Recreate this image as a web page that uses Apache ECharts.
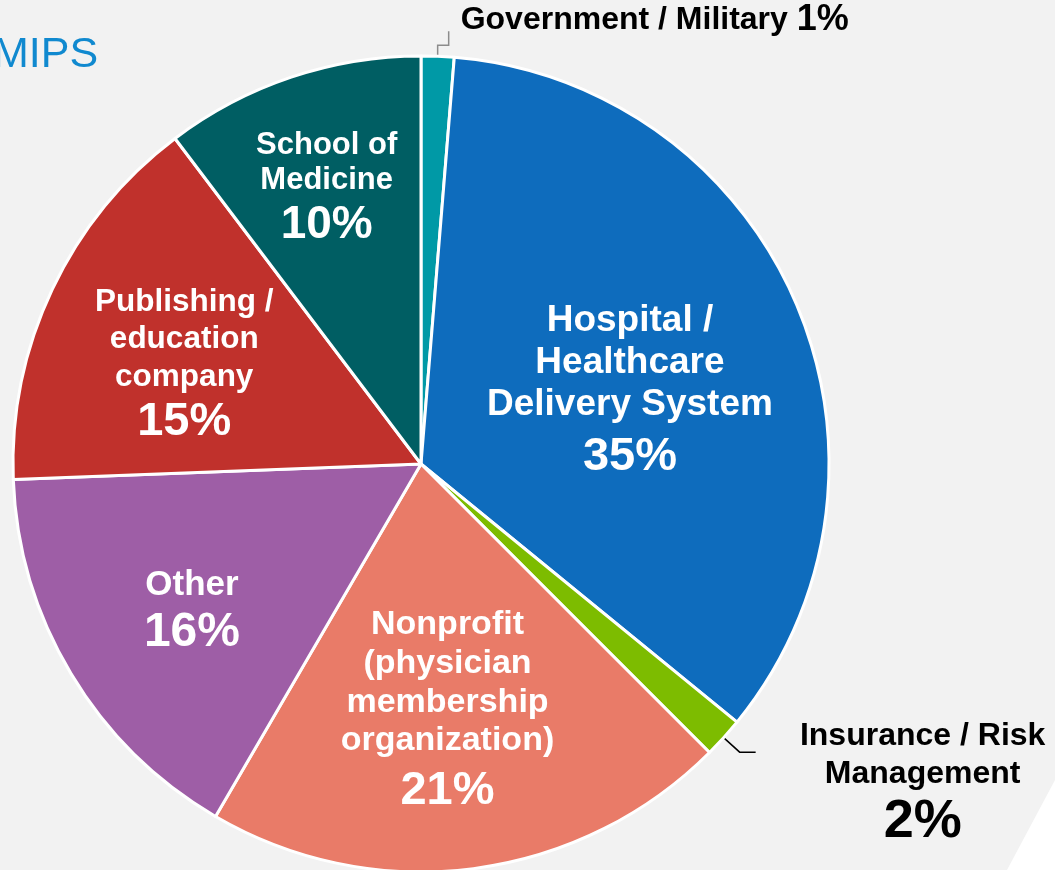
<!DOCTYPE html>
<html><head><meta charset="utf-8">
<script src="https://cdn.jsdelivr.net/npm/echarts@6/dist/echarts.min.js"></script>
<style>html,body{margin:0;padding:0;background:#f2f2f2;} #c{width:1055px;height:870px;}</style>
</head><body><div id="c"></div>
<script>
// ---- data ----
const categories = [
  'Government / Military',
  'Hospital /\nHealthcare\nDelivery System',
  'Insurance / Risk\nManagement',
  'Nonprofit\n(physician\nmembership\norganization)',
  'Other',
  'Publishing /\neducation\ncompany',
  'School of\nMedicine'
];
const shares = [1.3, 34.6, 1.6, 20.9, 16.0, 15.3, 10.3];
const colors = ['#0099a6', '#0e6cbd', '#7dbc00', '#e97b68', '#9e5ea6', '#c0312c', '#005e63'];
const titleText = 'MIPS';

// ---- label styling per slice: [nameSize, nameLineHeight, pctSize, pctLineHeight] ----
const labelFonts = [[32,38,36,38],[37,42,47,62],[32,38.5,54,56.5],[34,38.7,47,61],[35,38,48,57],[31.5,37.5,47,52.5],[31,35,46,55]];
// inside label placement: [radius fraction, angle offset (deg)]
const labelPlace = [null,[0.540,5.2],null,[0.615,1.4],[0.671,-2.6],[0.628,-2.9],[0.709,-0.6]];
const CENTER = [421, 464], RADIUS = 408;
const FONT = '"Liberation Sans", Arial, sans-serif';

const rich = {};
labelFonts.forEach((f, i) => {
  const col = labelPlace[i] ? '#ffffff' : '#000000';
  rich['n' + i] = {fontSize: f[0], lineHeight: f[1], fontWeight: 'bold', color: col, align: 'center', fontFamily: FONT};
  rich['p' + i] = {fontSize: f[2], lineHeight: f[3], fontWeight: 'bold', color: col, align: 'center', fontFamily: FONT};
});
rich.n0.align = 'left'; rich.p0.align = 'left';

const data = categories.map((name, i) => {
  const item = {name: name, value: shares[i], itemStyle: {color: colors[i]}};
  if (labelPlace[i]) {
    item.label = {position: 'inside'};
    item.labelLine = {show: false};
  }
  return item;
});
data[0].label = {position: 'outside', padding: [0, 0, 22, 0], distanceToLabelLine: 12, width: 440, overflow: 'none'};
data[0].labelLine = {show: true, length: 25, length2: 10, lineStyle: {color: '#8c8c8c', width: 1.5}};
data[2].label = {position: 'outside', padding: [63, 0, 0, 0], distanceToLabelLine: 42, width: 250, overflow: 'none'};
data[2].labelLine = {show: true, length: 21.6, length2: 16, lineStyle: {color: '#000000', width: 1.5}};

const chart = echarts.init(document.getElementById('c'), null, {renderer: 'canvas'});
chart.setOption({
  backgroundColor: '#f2f2f2',
  animation: false,
  title: {
    text: titleText, left: -7, top: 34, padding: 0,
    textStyle: {color: '#1089cf', fontSize: 43, fontWeight: 'normal', fontFamily: FONT}
  },
  graphic: [{
    type: 'polygon', silent: true, z: -1,
    shape: {points: [[1055, 780], [1055, 870], [1007, 870]]},
    style: {fill: '#ffffff'}
  }],
  series: [{
    type: 'pie',
    center: CENTER,
    radius: RADIUS,
    startAngle: 90,
    clockwise: true,
    avoidLabelOverlap: false,
    emphasis: {disabled: true},
    itemStyle: {borderColor: '#ffffff', borderWidth: 3},
    label: {
      show: true,
      fontFamily: FONT,
      rich: rich,
      formatter: function (p) {
        const i = p.dataIndex;
        const pct = Math.round(p.percent) + '%';
        if (i === 0) return '{n0|' + p.name + ' }{p0|' + pct + '}';
        return p.name.split('\n').map(s => '{n' + i + '|' + s + '}').join('\n') + '\n{p' + i + '|' + pct + '}';
      }
    },
    labelLayout: function (params) {
      const idx = params.dataIndex;
      const pl = labelPlace[idx];
      if (!pl) {
        const pts = params.labelLinePoints;
        if (idx === 0 && pts && pts.length === 3) {
          // elbow-shaped leader: up, right, up
          const p0 = pts[0], p2 = pts[2];
          const midY = p0[1] - 11;
          return {labelLinePoints: [[p0[0], p0[1]], [p0[0], midY], [p2[0], midY], [p2[0], p2[1]]]};
        }
        return {};
      }
      const r = params.labelRect;
      const x = r.x + r.width / 2, y = r.y + r.height / 2;
      const ang = Math.atan2(x - CENTER[0], -(y - CENTER[1])) + pl[1] * Math.PI / 180;
      return {
        x: CENTER[0] + pl[0] * RADIUS * Math.sin(ang),
        y: CENTER[1] - pl[0] * RADIUS * Math.cos(ang)
      };
    },
    data: data
  }]
});
</script>
</body></html>
